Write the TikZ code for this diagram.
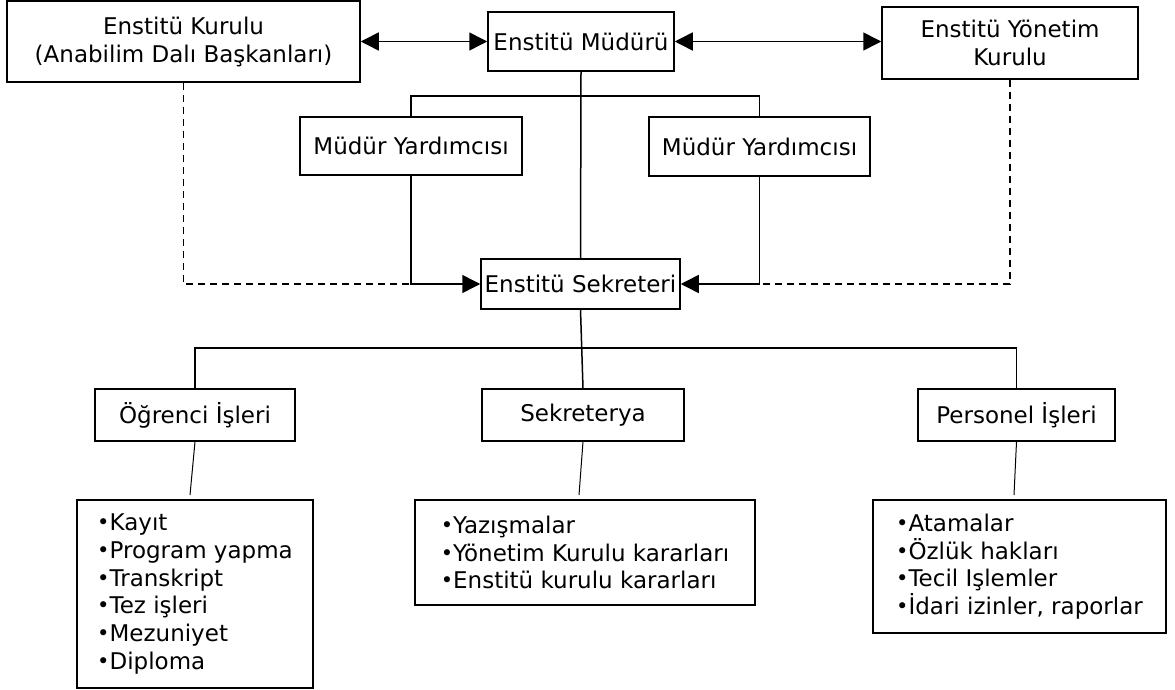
\documentclass[tikz,border=0pt]{standalone}
\usepackage{fontspec}
\setmainfont{DejaVu Sans}
\usetikzlibrary{arrows.meta,calc}
\newcommand{\lbul}{{\fontsize{21}{21}\selectfont\raisebox{1pt}{•}}}
\begin{document}
\begin{tikzpicture}[x=1pt,y=-1pt,
  box/.style={draw, line width=1.5pt, rectangle, inner sep=0pt, align=center,
              font=\fontsize{23}{28}\selectfont},
  listbox/.style={box, align=left, font=\fontsize{23}{27.7}\selectfont},
  conn/.style={line width=1.5pt},
  dconn/.style={line width=1.5pt, dash pattern=on 7pt off 5pt},
  tip/.style={-{Triangle[length=18pt,width=18pt]}},
  both/.style={{Triangle[length=18pt,width=18pt]}-{Triangle[length=18pt,width=18pt]}}]
\useasboundingbox (0,0) rectangle (1175,690);

% top row
\node[box, minimum width=353pt, minimum height=81pt] (K) at (183.5,41.5)
  {Enstitü Kurulu\\(Anabilim Dalı Başkanları)};
\node[box, minimum width=186pt, minimum height=59pt] (M) at (581,41.5) {Enstitü Müdürü};
\node[box, minimum width=256pt, minimum height=72pt] (Y) at (1010,43)
  {Enstitü Yönetim\\Kurulu};

% deputies
\node[box, minimum width=222pt, minimum height=58pt] (YL) at (411,146) {Müdür Yardımcısı};
\node[box, minimum width=221pt, minimum height=59pt] (YR) at (759.5,146.5) {Müdür Yardımcısı};

% secretary
\node[box, minimum width=199pt, minimum height=50pt] (S) at (580.5,284) {Enstitü Sekreteri};

% units
\node[box, minimum width=200pt, minimum height=52pt] (O) at (195,415) {Öğrenci İşleri};
\node[box, minimum width=202pt, minimum height=52pt] (SY) at (583,415) {Sekreterya};
\node[box, minimum width=197pt, minimum height=52pt] (P) at (1016.5,415) {Personel İşleri};

% lists
\node[listbox, minimum width=236pt, minimum height=188pt] (L1) at (195,594)
  {\lbul Kayıt\\\lbul Program yapma\\\lbul Transkript\\\lbul Tez işleri\\\lbul Mezuniyet\\\lbul Diploma};
\node[listbox, minimum width=340pt, minimum height=105pt] (L2) at (585,552.5)
  {\lbul Yazışmalar\\\lbul Yönetim Kurulu kararları\\\lbul Enstitü kurulu kararları};
\node[listbox, minimum width=293pt, minimum height=133pt] (L3) at (1019.5,566.5)
  {\lbul Atamalar\\\lbul Özlük hakları\\\lbul Tecil Işlemler\\\lbul İdari izinler, raporlar};

% coordinates
\coordinate (busT) at (581,96);
\coordinate (busB) at (580.5,348);
\coordinate (e1) at (190,495);
\coordinate (e2) at (579,495);
\coordinate (e3) at (1014,495);

% top arrows
\draw[conn, both] (K.east) -- (M.west);
\draw[conn, both] (M.east) -- (M.east -| Y.west);

% director to secretary and deputies
\draw[conn] (M.south) -- (S.north);
\draw[conn] (YL.north) |- (busT) -| (YR.north);

% dashed lines from boards
\draw[dconn] (K.south) |- (YL.south |- S.west);
\draw[dconn] (Y.south) |- (YR.south |- S.east);

% deputies to secretary
\draw[conn, tip] (YL.south) |- (S.west);
\draw[conn, tip] (YR.south) |- (S.east);

% secretary to units
\draw[conn] (S.south) -- (SY.north);
\draw[conn] (O.north) |- (busB) -| (P.north);

% units to lists
\draw[line width=1pt] (O.south) -- (e1);
\draw[line width=1pt] (SY.south) -- (e2);
\draw[line width=1pt] (P.south) -- (e3);
\end{tikzpicture}
\end{document}
